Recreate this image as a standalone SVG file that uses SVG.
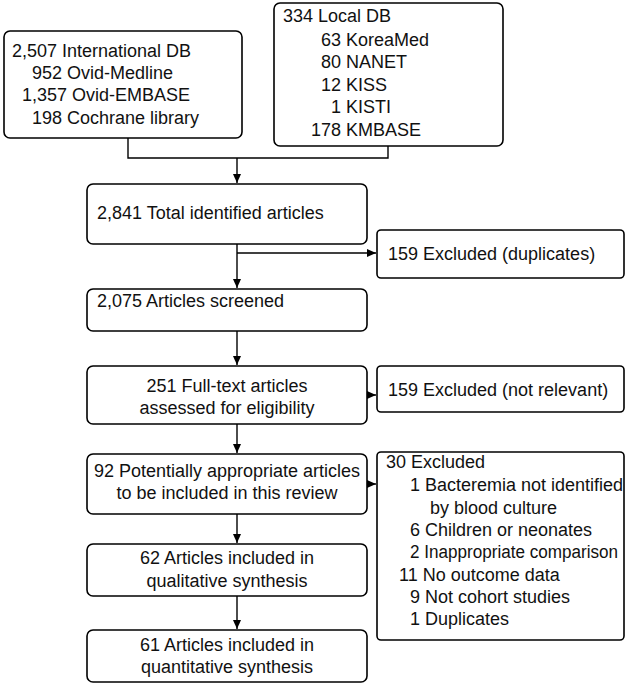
<svg xmlns="http://www.w3.org/2000/svg" width="628" height="695" viewBox="0 0 628 695">
<style>
rect{fill:#fff;stroke:#000;stroke-width:1.6}
text{font-family:"Liberation Sans",Arial,sans-serif;font-size:18px;fill:#111}
.c{text-anchor:middle}
.l{fill:none;stroke:#000;stroke-width:1.4}
</style>
<defs><marker id="a" markerWidth="10" markerHeight="10" refX="9" refY="5" orient="auto" markerUnits="userSpaceOnUse"><path d="M0,1 L9,5 L0,9 z" fill="#000"/></marker></defs>
<g id="connectors">
<path class="l" d="M128,138 V158 H388 V146"/>
<path class="l" d="M237,158 V183" marker-end="url(#a)"/>
<path class="l" d="M237,244 V288" marker-end="url(#a)"/>
<path class="l" d="M237,253 H376" marker-end="url(#a)"/>
<path class="l" d="M237,331 V365" marker-end="url(#a)"/>
<path class="l" d="M367,395 H376" marker-end="url(#a)"/>
<path class="l" d="M237,424 V453" marker-end="url(#a)"/>
<path class="l" d="M367,484 H376" marker-end="url(#a)"/>
<path class="l" d="M237,514 V543" marker-end="url(#a)"/>
<path class="l" d="M237,596 V629" marker-end="url(#a)"/>
</g>
<g id="intl"><rect x="4" y="31" width="238" height="107" rx="6"/>
<text x="12" y="57">2,507 International DB</text><text x="32" y="79">952 Ovid-Medline</text><text x="22" y="101">1,357 Ovid-EMBASE</text><text x="32" y="124">198 Cochrane library</text></g>
<g id="local"><rect x="274" y="3" width="229" height="143" rx="6"/>
<text x="283" y="22">334 Local DB</text><text x="321" y="46">63 KoreaMed</text><text x="321" y="68">80 NANET</text><text x="321" y="91">12 KISS</text><text x="331" y="113">1 KISTI</text><text x="311" y="136">178 KMBASE</text></g>
<g id="total"><rect x="87" y="184" width="280" height="60" rx="6"/><text x="97" y="219">2,841 Total identified articles</text></g>
<g id="dup"><rect x="377" y="230" width="247" height="48" rx="4"/><text x="388" y="260">159 Excluded (duplicates)</text></g>
<g id="screened"><rect x="87" y="289" width="280" height="42" rx="6"/><text x="97" y="307">2,075 Articles screened</text></g>
<g id="full"><rect x="87" y="366" width="280" height="58" rx="6"/><text class="c" x="227" y="392">251 Full-text articles</text><text class="c" x="227" y="414">assessed for eligibility</text></g>
<g id="notrel"><rect x="377" y="366" width="247" height="46" rx="4"/><text x="388" y="396">159 Excluded (not relevant)</text></g>
<g id="pot"><rect x="87" y="454" width="280" height="60" rx="6"/><text class="c" x="227" y="477">92 Potentially appropriate articles</text><text class="c" x="227" y="499">to be included in this review</text></g>
<g id="excl30"><rect x="377" y="452" width="247" height="188" rx="4"/>
<text x="386" y="468">30 Excluded</text>
<text x="410" y="491">1 Bacteremia not identified</text>
<text x="430" y="514">by blood culture</text>
<text x="410" y="536">6 Children or neonates</text>
<text x="410" y="558" textLength="208" lengthAdjust="spacingAndGlyphs">2 Inappropriate comparison</text>
<text x="399" y="581">11 No outcome data</text>
<text x="410" y="603">9 Not cohort studies</text>
<text x="410" y="625">1 Duplicates</text></g>
<g id="qual"><rect x="87" y="544" width="280" height="52" rx="6"/><text class="c" x="227" y="564">62 Articles included in</text><text class="c" x="227" y="587">qualitative synthesis</text></g>
<g id="quant"><rect x="87" y="630" width="280" height="52" rx="6"/><text class="c" x="227" y="651">61 Articles included in</text><text class="c" x="227" y="673">quantitative synthesis</text></g>
</svg>
